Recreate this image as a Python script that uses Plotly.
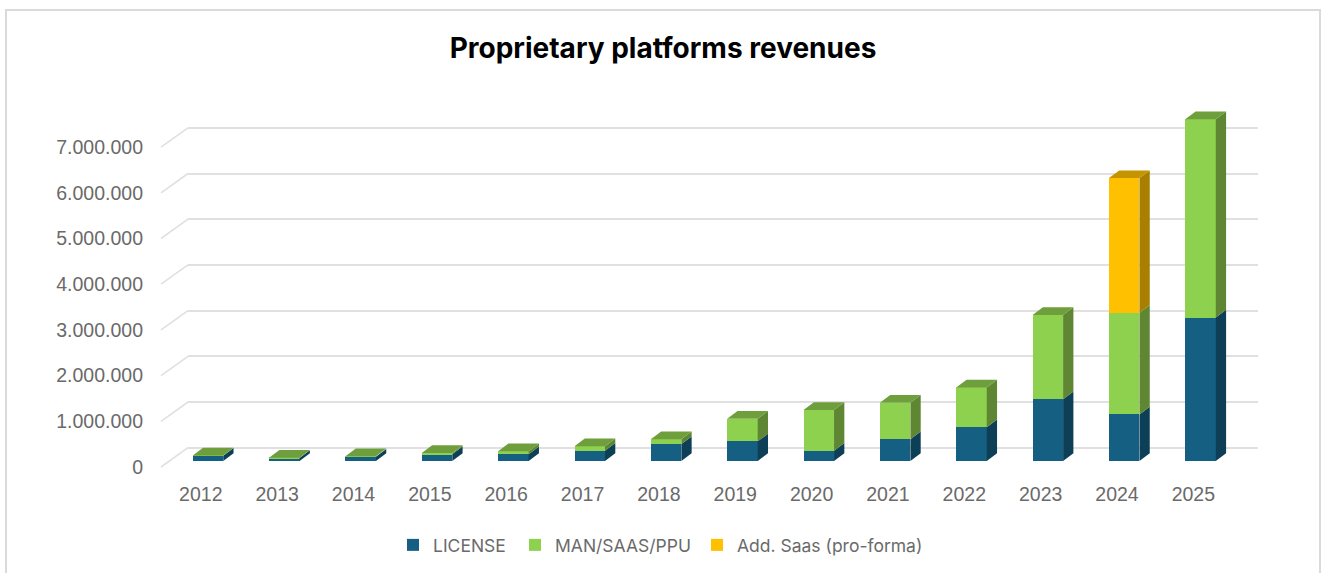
import plotly.graph_objects as go

years = list(range(2012, 2026))
license_vals = [115000, 65000, 95000, 150000, 150000, 225000, 370000, 430000, 225000, 475000, 740000, 1350000, 1020000, 3140000]
man_vals = [5000, 5000, 10000, 25000, 65000, 100000, 105000, 495000, 890000, 800000, 870000, 1845000, 2225000, 4340000]
add_vals = [0, 0, 0, 0, 0, 0, 0, 0, 0, 0, 0, 0, 2945000, 0]
y_ticks = [0, 1000000, 2000000, 3000000, 4000000, 5000000, 6000000, 7000000]

W, H = 1321, 573
PX_X = 76.35          # pixels per year
PX_Y = 45.7e-6        # pixels per value unit
BAR_W = 30.5 / PX_X
DX, DY = 10.3 / PX_X, 7.7 / PX_Y
LEFT, RIGHT, TOP, BOTTOM = 160, 1260, 100, 480
BACK_L, BACK_R = 188, 1258
TEXT_OFFSET = 40      # legend origin to start of legend text, px

def xdom(a, b): return [a / W, b / W]
def ydom(a, b): return [1 - b / H, 1 - a / H]
def xr(center_px, a, b): return [2012 + (a - center_px) / PX_X, 2012 + (b - center_px) / PX_X]
def yr(zero_px): return [(zero_px - BOTTOM) / PX_Y, (zero_px - TOP) / PX_Y]

series = [
    ("LICENSE", license_vals, "#156082", "#0d3f56", "#0d3f56", "legend", 433),
    ("MAN/SAAS/PPU", man_vals, "#8ed14f", "#5f8632", "#6e9f3c", "legend2", 555),
    ("Add. Saas (pro-forma)", add_vals, "#ffc000", "#a87f00", "#c49500", "legend3", 737),
]

fig = go.Figure()

# keeps the back-wall subplot alive
fig.add_trace(go.Scatter(x=years, y=[0] * len(years), xaxis="x", yaxis="y", mode="none",
                         showlegend=False, hoverinfo="skip"))

# front faces
for name, vals, front, side, top, leg, tx_px in series:
    fig.add_trace(go.Bar(x=years, y=vals, name=name, xaxis="x2", yaxis="y2", width=BAR_W, legend=leg,
                         marker=dict(color=front, line=dict(width=0)), hoverinfo="skip", showlegend=True))

# side and top faces
totals = [0] * len(years)
for idx, (name, vals, front, side, top, leg, tx_px) in enumerate(series):
    sx, sy, tx, ty = [], [], [], []
    for i, yr_ in enumerate(years):
        if vals[i] <= 0:
            continue
        base, upper = totals[i], totals[i] + vals[i]
        right = yr_ + BAR_W / 2
        left = yr_ - BAR_W / 2
        sx += [right, right + DX, right + DX, right, right, None]
        sy += [base, base + DY, upper + DY, upper, base, None]
        higher = sum(s[1][i] for s in series[idx + 1:])
        if higher <= 0:
            tx += [left, right, right + DX, left + DX, left, None]
            ty += [upper, upper, upper + DY, upper + DY, upper, None]
        totals[i] = upper
    for fx, fy, col in ((sx, sy, side), (tx, ty, top)):
        if fx:
            fig.add_trace(go.Scatter(x=fx, y=fy, xaxis="x2", yaxis="y2", mode="lines",
                                     fill="toself", fillcolor=col, line=dict(width=0),
                                     showlegend=False, hoverinfo="skip"))

# oblique floor-to-wall connectors, on the front-plane axis
GRID = "#e0e0e0"
cx, cy = [], []
x_front = xr(208, LEFT, RIGHT)[0] + (161 - LEFT) / PX_X
x_back = xr(208, LEFT, RIGHT)[0] + (BACK_L - LEFT) / PX_X
for v in y_ticks:
    cx += [x_front, x_back, None]
    cy += [v, v + 19.3 / PX_Y, None]
fig.add_trace(go.Scatter(x=cx, y=cy, xaxis="x2", yaxis="y3", mode="lines",
                         line=dict(color=GRID, width=1.6), showlegend=False, hoverinfo="skip"))

tick_font = dict(family="Liberation Sans", size=19.5, color="#6a6a6a")

legends = {}
for name, vals, front, side, top, leg, tx_px in series:
    legends[leg] = dict(orientation="h", x=(tx_px - TEXT_OFFSET) / W, xanchor="left",
                        y=1 - 545 / H, yanchor="middle",
                        font=dict(family="Inter", size=17.5, color="#6a6a6a"),
                        bgcolor="rgba(0,0,0,0)", itemclick=False, itemdoubleclick=False)

fig.update_layout(
    template="none",
    width=W, height=H,
    autosize=False,
    margin=dict(l=0, r=0, t=0, b=0),
    paper_bgcolor="white", plot_bgcolor="rgba(0,0,0,0)",
    barmode="stack", bargap=0,
    separators=",.",
    title=dict(text="<b>Proprietary platforms revenues</b>", x=663 / W, xanchor="center",
               y=1 - 48 / H, yanchor="middle",
               font=dict(family="Inter", size=28, color="#000000")),
    # back wall: gridlines and year labels
    xaxis=dict(domain=xdom(BACK_L, BACK_R), range=xr(200.8, BACK_L, BACK_R), tickvals=years,
               tickformat="d", showgrid=False, zeroline=False, showline=False, ticks="",
               tickfont=tick_font, automargin=False),
    yaxis=dict(domain=ydom(TOP, BOTTOM), range=yr(447.7), tickvals=y_ticks, showticklabels=False,
               showgrid=True, gridcolor=GRID, gridwidth=2, zeroline=False, showline=False,
               ticks="", automargin=False, anchor="x"),
    # bars
    xaxis2=dict(domain=xdom(LEFT, RIGHT), range=xr(208, LEFT, RIGHT), visible=False, anchor="y2"),
    yaxis2=dict(domain=ydom(TOP, BOTTOM), range=yr(461), visible=False, anchor="x2"),
    # front plane: value labels
    yaxis3=dict(domain=ydom(TOP, BOTTOM), range=yr(467), tickvals=y_ticks, tickformat=",d",
                overlaying="y2", anchor="x2", side="left", showgrid=False, zeroline=False,
                showline=False, ticks="", tickfont=tick_font, ticklabelstandoff=16, automargin=False),
    shapes=[dict(type="rect", xref="paper", yref="paper", x0=6 / W, x1=1320 / W,
                 y0=-0.05, y1=1 - 10 / H, line=dict(color="#dadada", width=2), layer="below")],
    **legends,
)

fig.write_html("out.html", config=dict(displayModeBar=False),
               post_script="document.body.style.margin='0';document.body.style.overflow='hidden';")
